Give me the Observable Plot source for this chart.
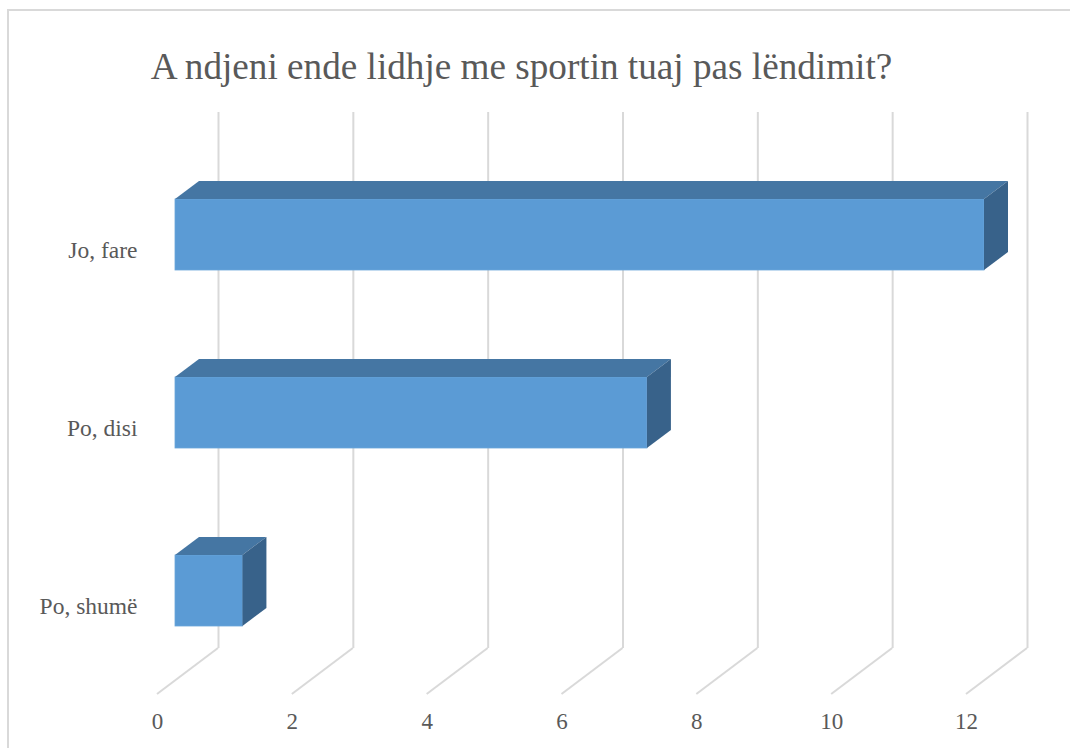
<!DOCTYPE html>
<html>
<head>
<meta charset="utf-8">
<script src="https://cdn.jsdelivr.net/npm/d3@7"></script>
<script src="https://cdn.jsdelivr.net/npm/@observablehq/plot@0.6"></script>
<style>
  html, body { margin: 0; padding: 0; background: #fff; }
  #wrap { position: relative; width: 1070px; height: 748px; overflow: hidden; background: #fff; }
  #border { position: absolute; left: 7px; top: 9px; width: 1100px; height: 800px; border: 2px solid #d9d9d9; box-sizing: border-box; }
  #title { position: absolute; left: 0; top: 48px; width: 1043px; text-align: center;
           font-family: 'Liberation Serif'; font-size: 37.2px; line-height: 1; color: #595959; white-space: nowrap; }
  #chart { position: absolute; left: 0; top: 0; }
</style>
</head>
<body>
<div id="wrap">
  <div id="border"></div>
  <div id="chart"></div>
  <div id="title"></div>
</div>
<script>
const title = "A ndjeni ende lidhje me sportin tuaj pas lëndimit?";
const categories = ["Jo, fare", "Po, disi", "Po, shumë"];
const values = [12, 7, 1];
const ticks = [0, 2, 4, 6, 8, 10, 12];

const data = categories.map((c, i) => ({category: c, value: values[i]}));

// 3D geometry (pixels)
const WALL = {dx: 61, dy: 46};   // floor depth
const BAR = {x: 18, dx: 24, dy: 18}; // bar front offset and bar depth
const GRID = "#d9d9d9";
const TEXT = "#595959";
const FONT = "'Liberation Serif'";

document.getElementById("title").textContent = title;

const floorLines = (index, scales, vals, dims) => {
  const g = d3.create("svg:g");
  const yBack = dims.height - dims.marginBottom;
  for (const i of index) {
    const x = vals.x[i];
    g.append("line")
      .attr("x1", x).attr("y1", yBack + WALL.dy)
      .attr("x2", x + WALL.dx).attr("y2", yBack)
      .attr("stroke", GRID).attr("stroke-width", 2);
  }
  return g.node();
};

const bars3d = (index, scales, vals) => {
  const g = d3.create("svg:g");
  const bw = scales.y && scales.y.bandwidth ? scales.y.bandwidth() : 71;
  for (const i of index) {
    const x0 = vals.x1[i] + BAR.x, x1 = vals.x2[i] + BAR.x;
    const y0 = vals.y[i], y1 = y0 + bw;
    g.append("rect").attr("x", x0).attr("y", y0).attr("width", x1 - x0).attr("height", bw)
      .attr("fill", "#5B9BD5").attr("stroke", "#6aa5da").attr("stroke-width", 0.8);
    g.append("polygon")
      .attr("points", [[x0, y0], [x0 + BAR.dx, y0 - BAR.dy], [x1 + BAR.dx, y0 - BAR.dy], [x1, y0]].map(p => p.join(",")).join(" "))
      .attr("fill", "#4576A3");
    g.append("polygon")
      .attr("points", [[x1, y0], [x1 + BAR.dx, y0 - BAR.dy], [x1 + BAR.dx, y1 - BAR.dy], [x1, y1]].map(p => p.join(",")).join(" "))
      .attr("fill", "#38628A");
  }
  return g.node();
};

const chart = Plot.plot({
  width: 1070,
  height: 748,
  marginTop: 112,
  marginBottom: 100,
  marginLeft: 157,
  marginRight: 104,
  style: {fontFamily: FONT, fontSize: "23px", background: "transparent", color: TEXT},
  x: {domain: [0, 12], range: [157, 966], axis: null},
  y: {type: "band", domain: categories, range: [144.75, 680.25], paddingInner: 0.602, paddingOuter: 0.301, align: 0.5, axis: null},
  marks: [
    Plot.ruleX(ticks, {x: d => d, dx: WALL.dx, stroke: GRID, strokeWidth: 2}),
    Plot.ruleX(ticks, {x: d => d, render: floorLines}),
    Plot.barX(data, {x: "value", y: "category", render: bars3d}),
    Plot.text(ticks, {x: d => d, frameAnchor: "bottom", dy: 73, text: d => String(d), fill: TEXT, fontSize: 23, fontFamily: FONT, lineAnchor: "middle"}),
    Plot.text(categories, {x: () => 0, y: d => d, dx: -20, dy: 15, textAnchor: "end", text: d => d, fill: TEXT, fontSize: 23.5, fontFamily: FONT, lineAnchor: "middle"})
  ]
});
document.getElementById("chart").appendChild(chart);
</script>
</body>
</html>
